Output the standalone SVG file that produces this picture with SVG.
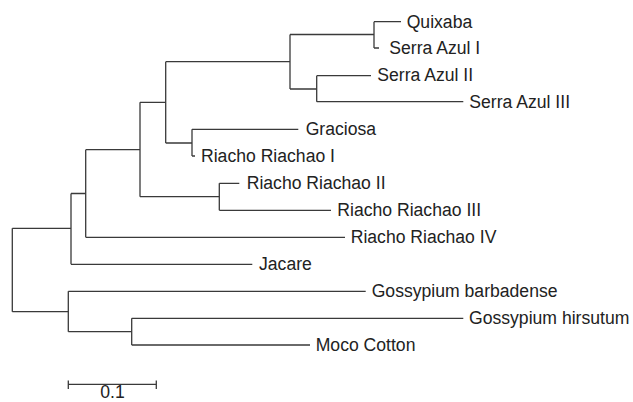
<svg xmlns="http://www.w3.org/2000/svg" width="633" height="402" viewBox="0 0 633 402">
<style>
.e{fill:none;stroke:#3a3a3a;stroke-width:1.3;stroke-linecap:butt}
.t{font-family:"Liberation Sans",Arial,Helvetica,sans-serif;font-size:17.6px;fill:#222}
</style>
<rect width="633" height="402" fill="#fff"/>
<g id="connectors" class="e">
<path d="M12.3,228.3V311.7M12.3,228.3H71M12.3,311.7H68.3"/>
<path d="M71,193.5V264.3M71,193.5H85.7M71,264.3H252.3"/>
<path d="M85.7,149.7V237.3M85.7,149.7H140M85.7,237.3H345"/>
<path d="M140,102.3V196.7M140,102.3H165.7M140,196.7H219.3"/>
<path d="M165.7,61.7V143M165.7,61.7H290M165.7,143H192"/>
<path d="M290,34.5V89M290,34.5H374M290,89H316.7"/>
<path d="M374,21.7V48M374,21.7H401M374,48H379"/>
<path d="M316.7,75.7V101.7M316.7,75.7H371M316.7,101.7H463.3"/>
<path d="M192,129.3V156M192,129.3H298.3M192,156H195"/>
<path d="M219.3,183.3V210.3M219.3,183.3H239.3M219.3,210.3H331"/>
<path d="M68.3,291.3V331.7M68.3,291.3H365.7M68.3,331.7H131.7"/>
<path d="M131.7,318.3V345M131.7,318.3H463.3M131.7,345H310"/>
</g>
<g id="scalebar" class="e">
<path d="M68.3,384.3H156.3M68.3,380.5V389M156.3,380.5V389"/>
</g>
<g id="node-quixaba"><text class="t" x="406.7" y="27.5">Quixaba</text></g>
<g id="node-serra-azul-1"><text class="t" x="389.3" y="54.3">Serra Azul I</text></g>
<g id="node-serra-azul-2"><text class="t" x="377.3" y="81.3">Serra Azul II</text></g>
<g id="node-serra-azul-3"><text class="t" x="469.3" y="108.3">Serra Azul III</text></g>
<g id="node-graciosa"><text class="t" x="305.7" y="135">Graciosa</text></g>
<g id="node-riacho-1"><text class="t" x="201" y="161.7">Riacho Riachao I</text></g>
<g id="node-riacho-2"><text class="t" x="246.7" y="188.7">Riacho Riachao II</text></g>
<g id="node-riacho-3"><text class="t" x="337.3" y="215.7">Riacho Riachao III</text></g>
<g id="node-riacho-4"><text class="t" x="350.7" y="242.7">Riacho Riachao IV</text></g>
<g id="node-jacare"><text class="t" x="259" y="270">Jacare</text></g>
<g id="node-barbadense"><text class="t" x="371.7" y="297">Gossypium barbadense</text></g>
<g id="node-hirsutum"><text class="t" x="469" y="323.7">Gossypium hirsutum</text></g>
<g id="node-moco"><text class="t" x="315.7" y="350.7">Moco Cotton</text></g>
<g id="scale-label"><text class="t" x="112.5" y="397.5" text-anchor="middle">0.1</text></g>
</svg>
